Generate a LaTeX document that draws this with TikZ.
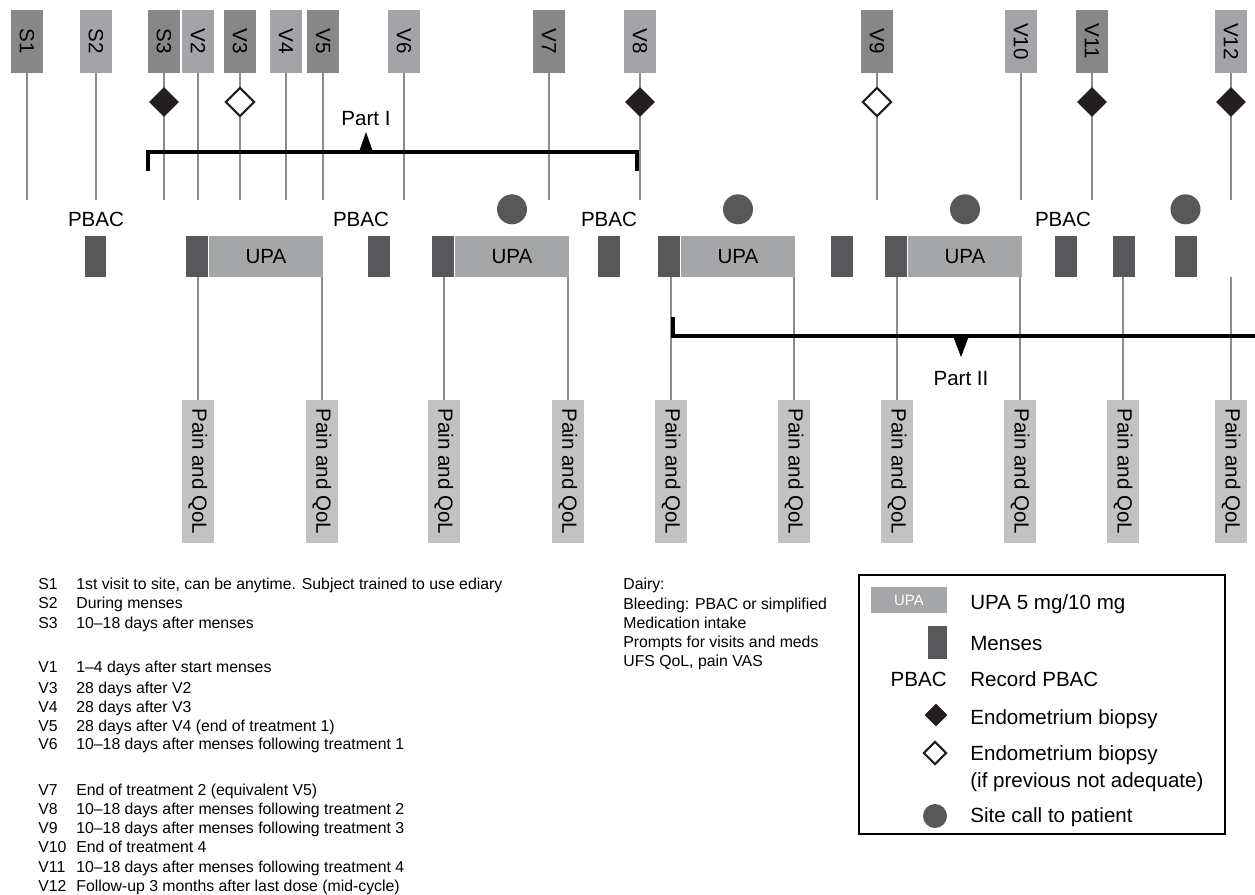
\documentclass[tikz,border=0pt]{standalone}
\usepackage{fontspec}
\setmainfont{Liberation Sans}
\usetikzlibrary{positioning,shapes.geometric}
\definecolor{tabdark}{HTML}{878787}
\definecolor{tablight}{HTML}{A3A4A7}
\definecolor{upagrey}{HTML}{A5A6A8}
\definecolor{mensgrey}{HTML}{58585A}
\definecolor{paingrey}{HTML}{C1C2C4}
\definecolor{linegrey}{HTML}{8C8C8C}
\definecolor{biopsy}{HTML}{231F20}

\begin{document}
\begin{tikzpicture}[
    x=0.02cm, y=-0.02cm,
    every node/.style={font=\fontsize{11.7}{14}\selectfont, inner sep=0pt},
    visit/.style={rotate=-90, minimum width=1.26cm, minimum height=0.64cm},
    pain/.style={rotate=-90, fill=paingrey, minimum width=2.86cm, minimum height=0.64cm},
    menses/.style={fill=mensgrey, minimum width=0.44cm, minimum height=0.82cm},
    upa/.style={fill=upagrey, minimum width=2.28cm, minimum height=0.82cm},
    vline/.style={draw=linegrey, line width=1pt},
    fullbiopsy/.style={diamond, fill=biopsy, minimum width=0.6cm, minimum height=0.6cm},
    openbiopsy/.style={diamond, draw=biopsy, fill=white, line width=1.2pt, minimum width=0.58cm, minimum height=0.58cm},
    call/.style={circle, fill=mensgrey, minimum size=0.6cm},
    bracket/.style={line width=2.2pt},
    small/.style={font=\fontsize{9}{11}\selectfont}
]
\useasboundingbox (0,0) rectangle (1255,894);

\coordinate (base) at (0,200);
\coordinate (dia) at (0,102);
\coordinate (low) at (0,277);

\foreach \n/\x/\c in {S1/27/tabdark, S2/96/tablight, S3/164/tabdark, V2/198/tablight,
    V3/240/tabdark, V4/286/tablight, V5/323/tabdark, V6/404/tablight, V7/549/tabdark,
    V8/640/tablight, V9/877/tabdark, V10/1021/tablight, V11/1092/tabdark, V12/1231/tablight}
{
    \node[visit, fill=\c] (\n) at (\x,41.5) {\n};
    \draw[vline] (\n.east) -- (\n.east |- base);
}

\node[fullbiopsy] (b1) at (S3 |- dia) {};
\node[openbiopsy] (b2) at (V3 |- dia) {};
\node[fullbiopsy] (b3) at (V8 |- dia) {};
\node[openbiopsy] (b4) at (V9 |- dia) {};
\node[fullbiopsy] (b5) at (V11 |- dia) {};
\node[fullbiopsy] (b6) at (V12 |- dia) {};

\draw[bracket] (148,171) -- (148,152) -- (637,152) -- (637,171);
\fill (359,152) -- (366,132) -- (373,152) -- cycle;
\node (partI) at (366,119) {Part I};

\node[menses] (m1) at (95.5,256.5) {};
\node[menses] (m2) at (378.5,256.5) {};
\node[menses] (m3) at (609,256.5) {};
\node[menses] (m4) at (841.5,256.5) {};
\node[menses] (m5) at (1066,256.5) {};
\node[menses] (m6) at (1123.5,256.5) {};
\node[menses] (m7) at (1185.5,256.5) {};

\node[upa] (u1) at (266,256.5) {UPA};
\node[upa] (u2) at (512,256.5) {UPA};
\node[upa] (u3) at (738,256.5) {UPA};
\node[upa] (u4) at (965,256.5) {UPA};
\node[menses, left=0pt of u1] (u1m) {};
\node[menses, left=0pt of u2] (u2m) {};
\node[menses, left=0pt of u3] (u3m) {};
\node[menses, left=0pt of u4] (u4m) {};

\node (pbac1) at (96,219) {PBAC};
\node (pbac2) at (361,219) {PBAC};
\node (pbac3) at (609,219) {PBAC};
\node (pbac4) at (1063,219) {PBAC};

\node[call, above=0.22cm of u2] (call1) {};
\node[call, above=0.22cm of u3] (call2) {};
\node[call, above=0.22cm of u4] (call3) {};
\node[call, above=0.22cm of m7] (call4) {};

\foreach \n/\x in {P1/198, P2/322, P3/444, P4/568, P5/671, P6/794, P7/897,
    P8/1020, P9/1123, P10/1231}
{
    \node[pain] (\n) at (\x,471.5) {Pain and QoL};
    \draw[vline] (\n.west) -- (\n.west |- low);
}

\draw[bracket] (673,317) -- (673,336) -- (1255,336);
\fill (953,336) -- (961,357) -- (969,336) -- cycle;
\node (partII) at (961,379) {Part II};

\foreach \y/\lab/\txt in {584/S1/{1st visit to site, can be anytime. Subject trained to use ediary},
    603/S2/{During menses}, 623/S3/{10–18 days after menses},
    667/V1/{1–4 days after start menses}, 688/V3/{28 days after V2},
    707/V4/{28 days after V3}, 726/V5/{28 days after V4 (end of treatment 1)},
    744/V6/{10–18 days after menses following treatment 1},
    790/V7/{End of treatment 2 (equivalent V5)},
    809/V8/{10–18 days after menses following treatment 2},
    828/V9/{10–18 days after menses following treatment 3},
    847/V10/{End of treatment 4},
    867/V11/{10–18 days after menses following treatment 4},
    886/V12/{Follow-up 3 months after last dose (mid-cycle)}}
{
    \node[small, anchor=base west] (key\lab) at (38,{\y+5.5}) {\lab};
    \node[small, anchor=base west] (note\lab) at (76,{\y+5.5}) {\txt};
}

\foreach \y/\i/\txt in {584/1/{Dairy:}, 604/2/{Bleeding: PBAC or simplified},
    623/3/{Medication intake}, 642/4/{Prompts for visits and meds},
    661/5/{UFS QoL, pain VAS}}
{
    \node[small, anchor=base west] (diary\i) at (623,{\y+5.5}) {\txt};
}

\draw[line width=1pt] (859,575) rectangle (1225,834);
\node[fill=upagrey, text=white, minimum width=1.52cm, minimum height=0.52cm,
    font=\fontsize{8.5}{10}\selectfont] (keyupa) at (909,600) {UPA};
\node[fill=mensgrey, minimum width=0.37cm, minimum height=0.66cm] (keymens) at (937.5,642.5) {};
\node[anchor=base east] (keypbac) at (947,686) {PBAC};
\node[fullbiopsy, minimum width=0.46cm, minimum height=0.46cm] (keyfull) at (936,715) {};
\node[openbiopsy, minimum width=0.46cm, minimum height=0.46cm] (keyopen) at (935,753) {};
\node[call, minimum size=0.48cm] (keycall) at (935,816) {};

\node[anchor=base west] (txtupa) at (970,609) {UPA 5 mg/10 mg};
\node[anchor=base west] (txtmens) at (970,650) {Menses};
\node[anchor=base west] (txtpbac) at (970,686) {Record PBAC};
\node[anchor=base west] (txtfull) at (970,724) {Endometrium biopsy};
\node[anchor=base west] (txtopen) at (970,760) {Endometrium biopsy};
\node[anchor=base west] (txtopen2) at (970,787) {(if previous not adequate)};
\node[anchor=base west] (txtcall) at (970,822) {Site call to patient};

\end{tikzpicture}
\end{document}
